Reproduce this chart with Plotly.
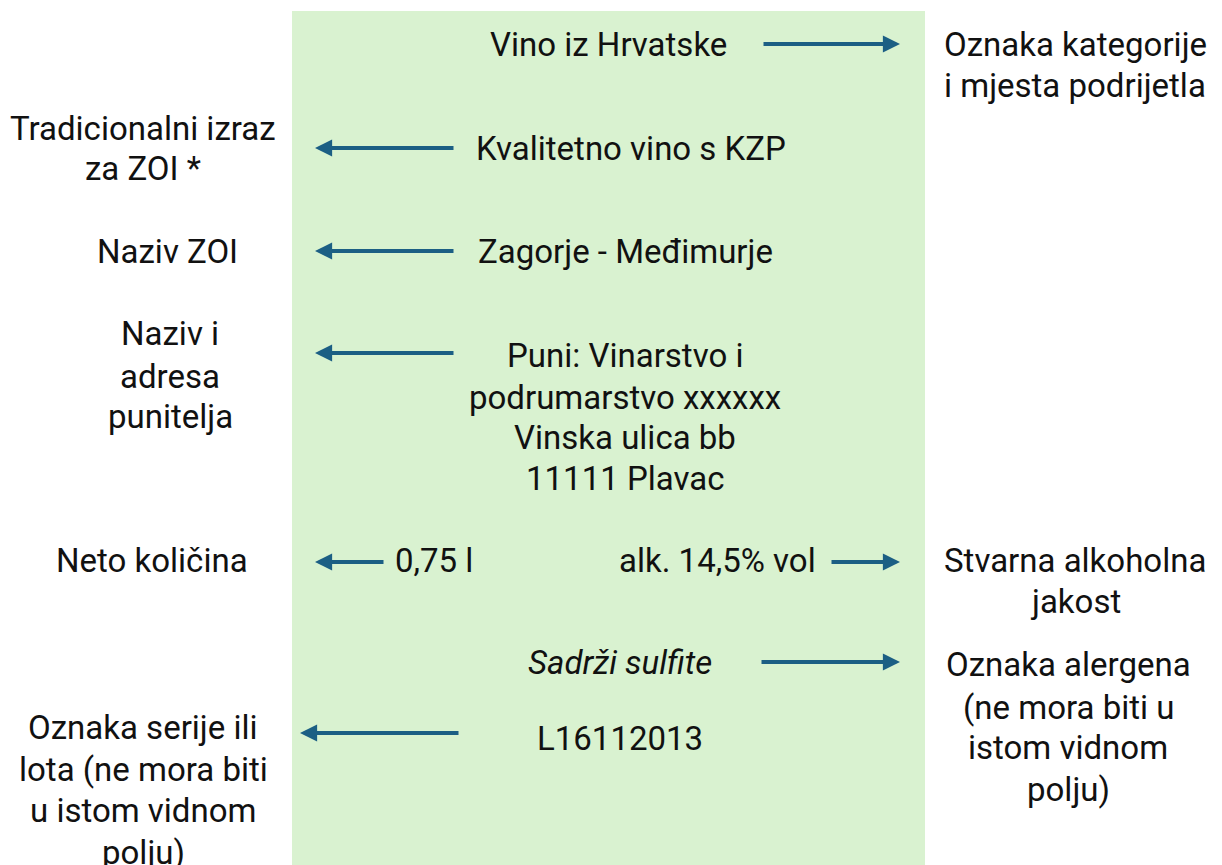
import plotly.graph_objects as go

W, H = 1222, 865
PAD = 8  # page body margin in the browser
GREEN = "#D9F2D0"
BLUE = "#1C5F84"
FONT = "Roboto"
SIZE = 33

# Label texts (lines), with centre positions in pixels
label_lines = [
    ("Vino iz Hrvatske", 608, 44, False),
    ("Oznaka kategorije", 1075, 44, False),
    ("i mjesta podrijetla", 1075, 85, False),
    ("Tradicionalni izraz", 143, 128, False),
    ("za ZOI *", 143, 168, False),
    ("Kvalitetno vino s KZP", 631, 148, False),
    ("Naziv ZOI", 167, 251, False),
    ("Zagorje - Međimurje", 625, 251, False),
    ("Naziv i", 170, 333, False),
    ("adresa", 170, 376, False),
    ("punitelja", 170, 416, False),
    ("Puni: Vinarstvo i", 625, 355, False),
    ("podrumarstvo xxxxxx", 625, 397, False),
    ("Vinska ulica bb", 625, 437, False),
    ("11111 Plavac", 625, 478, False),
    ("Neto količina", 152, 560, False),
    ("0,75 l", 434, 560, False),
    ("alk. 14,5% vol", 717, 560, False),
    ("Stvarna alkoholna", 1075, 560, False),
    ("jakost", 1075, 601, False),
    ("Sadrži sulfite", 620, 662, True),
    ("Oznaka alergena", 1068, 664, False),
    ("(ne mora biti u", 1068, 707, False),
    ("istom vidnom", 1068, 747, False),
    ("polju)", 1068, 789, False),
    ("L16112013", 620, 738, False),
    ("Oznaka serije ili", 143, 727, False),
    ("lota (ne mora biti", 143, 769, False),
    ("u istom vidnom", 143, 810, False),
    ("polju)", 143, 852, False),
]

# Arrows: (from_x, to_x, y)
arrows = [
    (762, 900, 44),
    (455, 315, 148),
    (455, 315, 251),
    (455, 315, 353),
    (385, 315, 562),
    (830, 900, 562),
    (760, 900, 662),
    (460, 300, 733),
]

fig = go.Figure()
fig.add_shape(type="rect", x0=292, x1=925, y0=11, y1=880,
              fillcolor=GREEN, line=dict(width=0), layer="below")

for txt, x, y, ital in label_lines:
    t = f"<i>{txt}</i>" if ital else txt
    fig.add_annotation(x=x, y=y, text=t, showarrow=False,
                       xanchor="center", yanchor="middle",
                       font=dict(family=FONT, size=SIZE, color="#111111"))

for x0, x1, y in arrows:
    fig.add_annotation(x=x1, y=y, ax=x0, ay=y, axref="x", ayref="y",
                       xref="x", yref="y", text="", showarrow=True,
                       arrowhead=2, arrowsize=0.9, arrowwidth=3.8,
                       arrowcolor=BLUE, standoff=0, startstandoff=0)

fig.update_layout(
    width=W - PAD, height=H - PAD,
    margin=dict(l=0, r=0, t=0, b=0),
    paper_bgcolor="white", plot_bgcolor="white",
    xaxis=dict(range=[PAD, W], visible=False, fixedrange=True),
    yaxis=dict(range=[H, PAD], visible=False, fixedrange=True),
    showlegend=False,
)
fig.write_html("out.html")
